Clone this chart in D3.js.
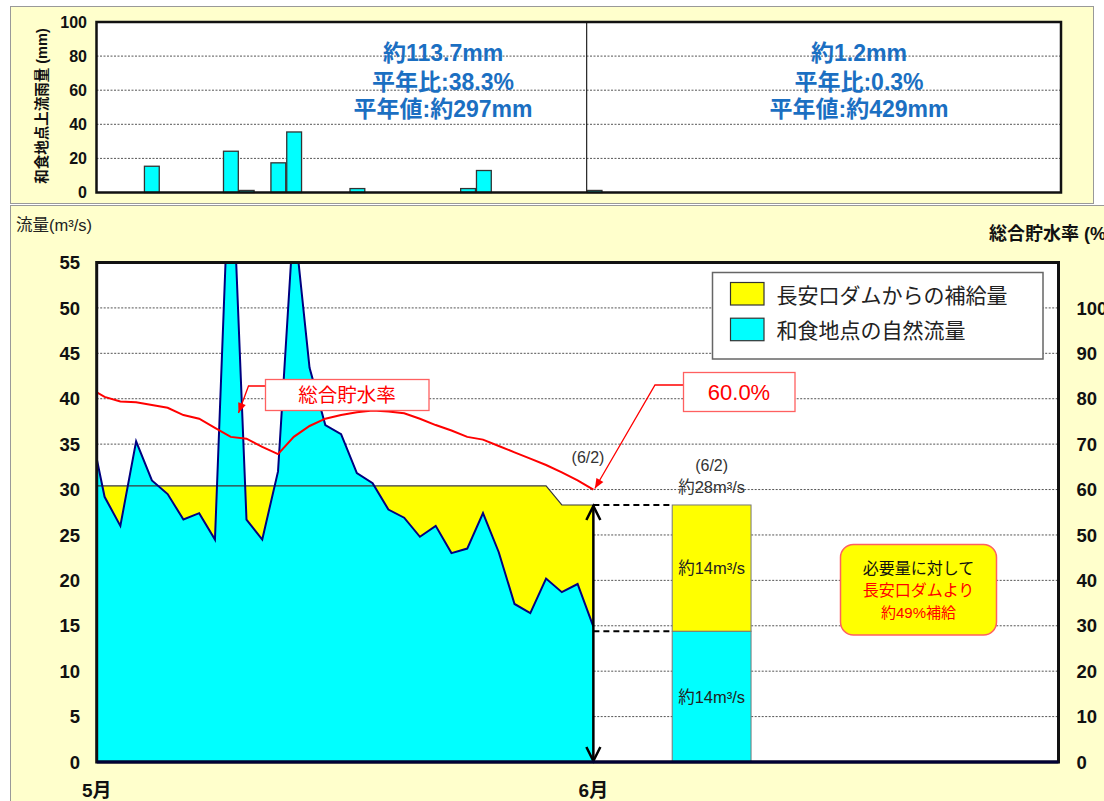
<!DOCTYPE html>
<html><head><meta charset="utf-8">
<script src="https://cdn.jsdelivr.net/npm/d3@7"></script>
<style>
body{margin:0;background:#fff;}
svg{display:block;}
text{font-family:"Liberation Sans","Noto Sans CJK JP",sans-serif;}
</style>
</head><body>
<svg id="c" width="1104" height="801"></svg>
<script>
// ---------- DATA ----------
// rainfall per day (slot 0 = 5/1 ... slot 31 = 6/1), mm
const rainDays = d3.range(0, 32);
const rain = [0,0,0,15.4,0,0,0,0,24.2,1.2,0,17.4,35.5,0,0,0,2.3,0,0,0,0,0,0,2.3,12.9,0,0,0,0,0,0,1.2];
const rainTicks = [0,20,40,60,80,100];
const rainTextMay = ["約113.7mm","平年比:38.3%","平年値:約297mm"];
const rainTextJune = ["約1.2mm","平年比:0.3%","平年値:約429mm"];

// daily flow (day -1 is the preceding day, clipped at the plot edge)
const flowDays = d3.range(-1, 32);
const naturalFlow = [37.6,29.2,26.0,35.3,31.0,29.5,26.7,27.4,24.5,70.0,26.7,24.5,32.0,60.0,43.4,37.1,36.1,31.8,30.7,27.8,26.9,24.8,26.0,23.0,23.5,27.4,23.1,17.4,16.4,20.2,18.7,19.6,14.9];
const requiredFlow = [30.4,30.4,30.4,30.4,30.4,30.4,30.4,30.4,30.4,30.4,30.4,30.4,30.4,30.4,30.4,30.4,30.4,30.4,30.4,30.4,30.4,30.4,30.4,30.4,30.4,30.4,30.4,30.4,30.4,30.4,28.3,28.3,28.3];
const storageRate = [82.4,80.4,79.4,79.2,78.6,78.0,76.4,75.6,73.6,71.6,71.2,69.4,67.8,71.6,74.0,75.6,76.4,77.0,77.4,77.2,76.8,75.6,74.2,73.0,71.6,71.0,69.6,68.2,66.8,65.4,63.8,62.0,60.0];

const flowTicks = [0,5,10,15,20,25,30,35,40,45,50,55];
const rateTicks = [0,10,20,30,40,50,60,70,80,90,100];
const monthLabels = ["5月","6月"];
const monthPos = [0, 31.5];

// 6/2 comparison bar
const compareNatural = 14.4;
const compareSupply = 13.9;
const compareCenter = 39;

const legendItems = ["長安口ダムからの補給量","和食地点の自然流量"];
const noteLines = ["必要量に対して","長安口ダムより","約49%補給"];

// ---------- STYLE ----------
const BG = "#FFFFCC";
const CYAN = "#00FFFF", YEL = "#FFFF00", NAVY = "#000080", RED = "#FF0000", BLUE = "#1B6FC2";

const svg = d3.select("#c");
svg.append("rect").attr("x",10.5).attr("y",6.5).attr("width",1083).attr("height",197)
  .attr("fill",BG).attr("stroke","#999");
svg.append("rect").attr("x",10.5).attr("y",205.5).attr("width",1110).attr("height",620)
  .attr("fill",BG).attr("stroke","#999");

// ---------- TOP CHART ----------
const tL = 96.5, tR = 1061, tT = 22, tB = 192.5;
const xTop = d3.scaleLinear().domain([0,61]).range([tL,tR]);
const yTop = d3.scaleLinear().domain([0,100]).range([tB,tT]);

svg.append("rect").attr("x",tL).attr("y",tT).attr("width",tR-tL).attr("height",tB-tT).attr("fill","#fff");
svg.append("g").selectAll("line").data(rainTicks.filter(d=>d>0&&d<100)).join("line")
  .attr("x1",tL).attr("x2",tR).attr("y1",d=>yTop(d)).attr("y2",d=>yTop(d))
  .attr("stroke","#555").attr("stroke-width",1).attr("stroke-dasharray","2,1.5");
svg.append("line").attr("x1",xTop(31)).attr("x2",xTop(31)).attr("y1",tT).attr("y2",tB)
  .attr("stroke","#222").attr("stroke-width",1.2);
svg.append("g").selectAll("rect").data(rainDays.filter((d,i)=>rain[i]>0)).join("rect")
  .attr("x",d=>xTop(d)+0.5).attr("width",d=>xTop(d+1)-xTop(d)-1)
  .attr("y",d=>yTop(rain[d])).attr("height",d=>yTop(0)-yTop(rain[d]))
  .attr("fill",CYAN).attr("stroke","#333").attr("stroke-width",1.3);
svg.append("rect").attr("x",tL).attr("y",tT).attr("width",tR-tL).attr("height",tB-tT)
  .attr("fill","none").attr("stroke","#111").attr("stroke-width",2.5);
svg.append("g").selectAll("text").data(rainTicks).join("text")
  .attr("x",87).attr("y",d=>yTop(d)).attr("dy","0.36em").attr("text-anchor","end")
  .attr("font-size",16).attr("font-weight","bold").attr("fill","#111").text(d=>d);
svg.append("text").attr("transform","translate(47,106) rotate(-90)").attr("text-anchor","middle")
  .attr("font-size",14.5).attr("font-weight","bold").attr("fill","#111").text("和食地点上流雨量 (mm)");
const rainY = [52.5,81.7,108.3];
[[rainTextMay,443],[rainTextJune,859]].forEach(([lines,cx])=>{
  svg.append("g").selectAll("text").data(lines).join("text")
    .attr("x",cx).attr("y",(d,i)=>rainY[i]).attr("dy","0.36em").attr("text-anchor","middle")
    .attr("font-size",23).attr("font-weight","bold").attr("fill",BLUE).text(d=>d);
});

// ---------- BOTTOM CHART ----------
const bL = 96.7, bR = 1058.5, bT = 262.5, bB = 762;
const x = d3.scaleLinear().domain([0,61]).range([bL,bR]);
const y = d3.scaleLinear().domain([0,55]).range([bB,bT]);
const yR = d3.scaleLinear().domain([0,110]).range([bB,bT]);

svg.append("defs").append("clipPath").attr("id","plotclip").append("rect")
  .attr("x",bL).attr("y",bT).attr("width",bR-bL).attr("height",bB-bT);

svg.append("rect").attr("x",bL).attr("y",bT).attr("width",bR-bL).attr("height",bB-bT).attr("fill","#fff");
svg.append("g").selectAll("line").data(flowTicks.filter(d=>d>0&&d<55)).join("line")
  .attr("x1",bL).attr("x2",bR).attr("y1",d=>y(d)).attr("y2",d=>y(d))
  .attr("stroke","#555").attr("stroke-width",1).attr("stroke-dasharray","2,1.5");

const plot = svg.append("g").attr("clip-path","url(#plotclip)");
const px = i => x(flowDays[i]+0.5);
const idx = d3.range(flowDays.length);

plot.append("path").datum(idx)
  .attr("d",d3.area().x(px).y0(y(0)).y1(i=>y(requiredFlow[i])))
  .attr("fill",YEL);
plot.append("path").datum(idx)
  .attr("d",d3.area().x(px).y0(y(0)).y1(i=>y(naturalFlow[i])))
  .attr("fill",CYAN);
plot.append("path").datum(idx)
  .attr("d",d3.line().x(px).y(i=>y(requiredFlow[i])))
  .attr("fill","none").attr("stroke","#3a3a3a").attr("stroke-width",1.2);
plot.append("path").datum(idx)
  .attr("d",d3.line().x(px).y(i=>y(naturalFlow[i])))
  .attr("fill","none").attr("stroke",NAVY).attr("stroke-width",2);
plot.append("path").datum(idx)
  .attr("d",d3.line().x(px).y(i=>yR(storageRate[i])))
  .attr("fill","none").attr("stroke",RED).attr("stroke-width",2);

// comparison bar
const cbL = x(compareCenter-2.5), cbR = x(compareCenter+2.5);
svg.append("rect").attr("x",cbL).attr("width",cbR-cbL)
  .attr("y",y(compareNatural)).attr("height",y(0)-y(compareNatural))
  .attr("fill",CYAN).attr("stroke","#777").attr("stroke-width",1);
svg.append("rect").attr("x",cbL).attr("width",cbR-cbL)
  .attr("y",y(compareNatural+compareSupply)).attr("height",y(compareNatural)-y(compareNatural+compareSupply))
  .attr("fill",YEL).attr("stroke","#777").attr("stroke-width",1);

// dashed connectors + arrow
const ax = x(31.5);
[compareNatural+compareSupply, compareNatural].forEach(v=>{
  svg.append("line").attr("x1",ax).attr("x2",cbL).attr("y1",y(v)).attr("y2",y(v))
    .attr("stroke","#000").attr("stroke-width",2).attr("stroke-dasharray","6,4");
});
const aTop = y(compareNatural+compareSupply), aBot = y(0);
svg.append("line").attr("x1",ax).attr("x2",ax).attr("y1",aTop).attr("y2",aBot-1)
  .attr("stroke","#000").attr("stroke-width",2.5);
svg.append("path").attr("d",`M${ax-7},${aTop+15}L${ax},${aTop+1}L${ax+7},${aTop+15}`)
  .attr("fill","none").attr("stroke","#000").attr("stroke-width",2.5);
svg.append("path").attr("d",`M${ax-7},${aBot-15}L${ax},${aBot-1}L${ax+7},${aBot-15}`)
  .attr("fill","none").attr("stroke","#000").attr("stroke-width",2.5);

// frame
svg.append("rect").attr("x",bL).attr("y",bT).attr("width",bR-bL).attr("height",bB-bT)
  .attr("fill","none").attr("stroke","#111").attr("stroke-width",3);
svg.append("line").attr("x1",bL).attr("x2",bR).attr("y1",bB).attr("y2",bB).attr("stroke","#000033").attr("stroke-width",3);

// axes labels
svg.append("g").selectAll("text").data(flowTicks).join("text")
  .attr("x",80).attr("y",d=>y(d)).attr("dy","0.36em").attr("text-anchor","end")
  .attr("font-size",18.5).attr("font-weight","bold").attr("fill","#111").text(d=>d);
svg.append("g").selectAll("text").data(rateTicks).join("text")
  .attr("x",1076.5).attr("y",d=>yR(d)).attr("dy","0.36em").attr("text-anchor","start")
  .attr("font-size",18.5).attr("font-weight","bold").attr("fill","#111").text(d=>d);
svg.append("g").selectAll("text").data(monthLabels).join("text")
  .attr("x",(d,i)=>x(monthPos[i])).attr("y",797).attr("text-anchor","middle")
  .attr("font-size",19).attr("font-weight","bold").attr("fill","#111").text(d=>d);
svg.append("text").attr("x",16).attr("y",225).attr("dy","0.36em").attr("font-size",16.5)
  .attr("fill","#222").text("流量(m³/s)");
svg.append("text").attr("x",989).attr("y",234).attr("dy","0.36em").attr("font-size",18)
  .attr("font-weight","bold").attr("fill","#111").text("総合貯水率 (%)");

// legend
const lg = svg.append("g");
lg.append("rect").attr("x",712.5).attr("y",272.5).attr("width",330.5).attr("height",86.5)
  .attr("fill","#fff").attr("stroke","#666").attr("stroke-width",1.5);
lg.selectAll("rect.sw").data(legendItems).join("rect").attr("class","sw")
  .attr("x",730.5).attr("y",(d,i)=>282.5+i*35.7).attr("width",33.5).attr("height",22.5)
  .attr("fill",(d,i)=>i===0?YEL:CYAN).attr("stroke","#333").attr("stroke-width",1.2);
lg.selectAll("text").data(legendItems).join("text")
  .attr("x",776.5).attr("y",(d,i)=>295+i*35.7).attr("dy","0.36em")
  .attr("font-size",21).attr("fill","#222").text(d=>d);

// callout: 総合貯水率
function redArrow(path, tip, from){
  svg.append("path").attr("d",path).attr("fill","none").attr("stroke",RED).attr("stroke-width",1.3);
  const ang = Math.atan2(tip[1]-from[1], tip[0]-from[0]);
  const L = 10, Wd = 4;
  const bx = tip[0]-L*Math.cos(ang), by = tip[1]-L*Math.sin(ang);
  svg.append("path").attr("d",`M${tip[0]},${tip[1]}L${bx+Wd*Math.sin(ang)},${by-Wd*Math.cos(ang)}L${bx-Wd*Math.sin(ang)},${by+Wd*Math.cos(ang)}Z`)
    .attr("fill",RED);
}
redArrow("M265,386H248.5L238.5,413",[238.5,413],[248.5,386]);
svg.append("rect").attr("x",265.5).attr("y",379.5).attr("width",163.5).attr("height",31)
  .attr("fill","#fff").attr("stroke","#FF6060").attr("stroke-width",1.3);
svg.append("text").attr("x",347).attr("y",395).attr("dy","0.36em").attr("text-anchor","middle")
  .attr("font-size",19.5).attr("fill",RED).text("総合貯水率");

// callout: 60.0%
redArrow(`M683,385H655L${ax+1.5},${yR(60)-1}`,[ax+1.5,yR(60)-1],[655,385]);
svg.append("rect").attr("x",683.5).attr("y",372.5).attr("width",111.5).attr("height",39)
  .attr("fill","#fff").attr("stroke","#FF6060").attr("stroke-width",1.3);
svg.append("text").attr("x",739).attr("y",392).attr("dy","0.36em").attr("text-anchor","middle")
  .attr("font-size",22).attr("fill",RED).text(storageRate[storageRate.length-1].toFixed(1)+"%");

// (6/2) labels
svg.append("text").attr("x",588).attr("y",457).attr("dy","0.36em").attr("text-anchor","middle")
  .attr("font-size",16).attr("fill","#333").text("(6/2)");
const cbC = (cbL+cbR)/2;
svg.append("text").attr("x",cbC).attr("y",465).attr("dy","0.36em").attr("text-anchor","middle")
  .attr("font-size",16).attr("fill","#333").text("(6/2)");
svg.append("text").attr("x",cbC).attr("y",487).attr("dy","0.36em").attr("text-anchor","middle")
  .attr("font-size",16.5).attr("fill","#333").text("約"+Math.round(compareNatural+compareSupply)+"m³/s");
svg.append("text").attr("x",cbC).attr("y",(y(compareNatural)+y(compareNatural+compareSupply))/2).attr("dy","0.36em")
  .attr("text-anchor","middle").attr("font-size",16.5).attr("fill","#222").text("約"+Math.round(compareSupply)+"m³/s");
svg.append("text").attr("x",cbC).attr("y",(y(0)+y(compareNatural))/2).attr("dy","0.36em")
  .attr("text-anchor","middle").attr("font-size",16.5).attr("fill","#222").text("約"+Math.round(compareNatural)+"m³/s");

// note box
svg.append("rect").attr("x",840.5).attr("y",544.5).attr("width",156).attr("height",90.5).attr("rx",13)
  .attr("fill",YEL).attr("stroke","#FF6060").attr("stroke-width",1.5);
svg.append("g").selectAll("text").data(noteLines).join("text")
  .attr("x",918.5).attr("y",(d,i)=>[568.5,590,613][i]).attr("dy","0.36em").attr("text-anchor","middle")
  .attr("font-size",(d,i)=>i===2?15:16).attr("fill",(d,i)=>i===0?"#111":RED).text(d=>d);
</script>
</body></html>
